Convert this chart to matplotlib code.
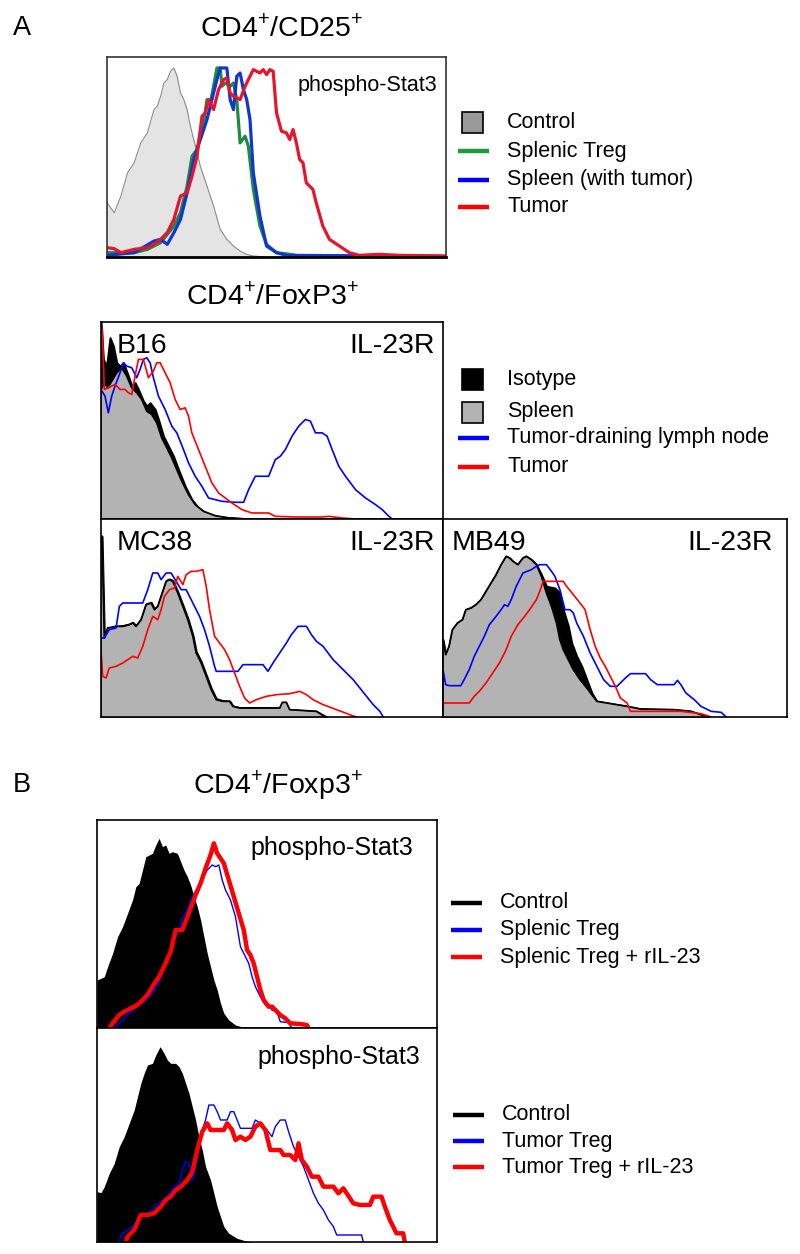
import matplotlib.pyplot as plt
from matplotlib.patches import Rectangle

plt.rcParams['font.family'] = ['Liberation Sans', 'DejaVu Sans']
plt.rcParams['mathtext.fontset'] = 'custom'
plt.rcParams['mathtext.rm'] = 'Liberation Sans'

# ---- Panel A top: CD4+/CD25+ phospho-Stat3 (channel, counts) ----
p1_ctrl_ch = [0, 22, 42, 62, 82, 102, 122, 142, 152, 162, 172, 182, 192, 202, 212, 222, 232, 242,
              252, 262, 282, 302, 322, 342, 362, 382, 402, 422, 442, 482, 1024]
p1_ctrl = [163, 133, 183, 253, 283, 343, 373, 443, 453, 483, 523, 533, 558, 568, 543, 493, 473, 443,
           393, 353, 273, 213, 153, 83, 53, 33, 18, 8, 3, 0, 0]
p1_green_ch = [0, 82, 122, 162, 202, 222, 242, 257, 272, 282, 292, 302, 312, 322, 332, 342, 347, 357,
               372, 382, 392, 402, 417, 427, 442, 462, 482, 512, 552, 582, 1024]
p1_green = [13, 13, 23, 43, 93, 133, 213, 303, 323, 373, 403, 473, 463, 513, 568, 568, 513, 523,
            513, 523, 473, 343, 363, 333, 203, 93, 38, 13, 8, 3, 1]
p1_blue_ch = [0, 82, 142, 162, 182, 202, 222, 242, 262, 282, 302, 322, 332, 342, 362, 372, 382, 392,
              402, 412, 422, 432, 442, 462, 482, 512, 542, 1024]
p1_blue = [5, 13, 48, 53, 38, 73, 113, 193, 293, 353, 413, 493, 533, 568, 568, 473, 443, 543,
           553, 503, 473, 413, 253, 123, 33, 13, 5, 2]
p1_red_ch = [0, 22, 42, 82, 122, 142, 162, 182, 202, 222, 242, 257, 272, 287, 297, 307, 322, 337,
             352, 362, 372, 382, 402, 417, 427, 442, 452, 462, 472, 482, 492, 502, 512, 527, 542, 552,
             562, 572, 582, 592, 602, 612, 622, 632, 652, 672, 702, 732, 762, 822, 882, 1024]
p1_red = [28, 25, 13, 23, 28, 38, 53, 73, 113, 183, 193, 243, 303, 423, 433, 473, 443, 503,
          533, 538, 493, 483, 473, 513, 533, 563, 558, 553, 563, 548, 563, 558, 433, 378, 373, 353,
          383, 343, 293, 283, 223, 213, 203, 163, 93, 53, 33, 13, 5, 8, 5, 3]

# ---- IL-23R, B16 ----
b16_iso_ch = [0, 7, 17, 27, 37, 47, 57, 67, 82, 92, 102, 112, 127, 137, 147, 162, 172, 187, 202, 217,
              232, 252, 272, 292, 322, 362, 412, 462]
b16_iso = [590, 478, 458, 543, 518, 468, 458, 468, 428, 398, 408, 388, 353, 338, 348, 328, 298, 248,
           218, 188, 148, 98, 58, 33, 13, 6, 2, 0]
b16_spl_ch = [0, 10, 20, 32, 47, 62, 77, 92, 107, 122, 137, 152, 167, 182, 197, 212, 227, 242, 262,
              282, 307, 342, 382, 432]
b16_spl = [388, 408, 393, 413, 438, 453, 428, 393, 378, 358, 323, 313, 288, 243, 213, 183, 148, 113,
           73, 43, 23, 10, 3, 0]
b16_blue_ch = [0, 12, 22, 32, 42, 57, 67, 77, 92, 107, 117, 127, 137, 147, 157, 172, 192, 212, 227,
               247, 262, 282, 302, 322, 362, 402, 427, 442, 462, 502, 522, 537, 552, 572, 592, 612,
               627, 642, 662, 677, 692, 712, 732, 762, 792, 822, 842, 862, 872]
b16_blue = [388, 368, 318, 368, 398, 438, 468, 458, 453, 423, 448, 478, 483, 468, 423, 368, 328, 278,
            258, 208, 168, 128, 98, 63, 53, 50, 50, 88, 128, 128, 178, 188, 208, 248, 278, 298,
            293, 258, 258, 248, 208, 158, 128, 88, 63, 43, 28, 8, 0]
b16_red_ch = [0, 4, 10, 22, 42, 57, 72, 82, 92, 102, 112, 127, 142, 157, 167, 177, 192, 207, 222, 237,
              252, 262, 272, 292, 312, 332, 352, 372, 392, 422, 452, 502, 522, 582, 662, 682, 722, 762]
b16_red = [568, 568, 388, 393, 403, 388, 388, 378, 373, 428, 478, 478, 423, 443, 468, 468, 438, 408,
           358, 328, 333, 308, 258, 208, 158, 108, 78, 63, 48, 28, 18, 18, 8, 6, 6, 8, 3, 0]

# ---- IL-23R, MC38 ----
mc38_spl_ch = [0, 3, 10, 20, 45, 65, 85, 95, 105, 120, 135, 150, 160, 170, 180, 195, 205, 215, 230,
               245, 260, 275, 285, 300, 315, 330, 345, 365, 385, 395, 415, 535, 543, 555, 565, 645,
               665, 675]
mc38_spl = [542, 542, 237, 267, 272, 272, 277, 282, 272, 292, 337, 342, 322, 332, 362, 407, 412, 407,
            372, 332, 292, 242, 192, 162, 122, 82, 52, 47, 47, 32, 27, 27, 44, 44, 22, 17, 4, 0]
mc38_iso_ch = [0, 3, 10, 20, 45, 65, 85, 95, 105, 120, 135, 150, 160, 170, 180, 195, 205, 215, 230,
               245, 260, 275, 285, 300, 315, 330, 345, 365, 385, 395, 415, 535, 565, 645, 675]
mc38_iso = [542, 542, 237, 267, 272, 274, 279, 284, 274, 294, 339, 344, 324, 334, 364, 409, 414, 409,
            375, 336, 296, 246, 196, 166, 126, 86, 55, 49, 48, 33, 28, 28, 22, 17, 0]
mc38_blue_ch = [0, 10, 25, 45, 55, 65, 125, 140, 155, 170, 180, 195, 210, 225, 240, 255, 265, 280,
                295, 310, 325, 340, 345, 410, 425, 485, 500, 515, 535, 555, 570, 590, 615, 630, 645,
                665, 680, 695, 715, 735, 755, 775, 795, 815, 835, 845]
mc38_blue = [237, 237, 262, 267, 332, 342, 342, 382, 432, 432, 412, 432, 432, 407, 382, 382, 362, 332,
             302, 262, 212, 152, 137, 137, 157, 157, 137, 162, 192, 222, 247, 272, 272, 247, 227,
             212, 192, 172, 152, 132, 112, 87, 62, 37, 17, 0]
mc38_red_ch = [0, 5, 15, 25, 45, 65, 80, 95, 110, 125, 140, 155, 170, 180, 190, 205, 220, 230, 245,
               255, 270, 285, 305, 315, 325, 340, 355, 370, 385, 400, 415, 430, 445, 465, 495, 525,
               565, 595, 615, 635, 665, 705, 745, 765]
mc38_red = [200, 122, 117, 147, 152, 162, 172, 182, 177, 212, 262, 302, 292, 322, 362, 382, 387, 422,
            397, 427, 437, 437, 442, 392, 322, 242, 222, 202, 172, 132, 92, 57, 42, 52, 62, 67,
            70, 77, 67, 52, 37, 22, 7, 0]

# ---- IL-23R, MB49 ----
mb49_iso_ch = [0, 8, 18, 28, 43, 58, 68, 83, 98, 113, 128, 143, 158, 173, 188, 198, 208, 223, 238, 248,
               263, 278, 293, 308, 333, 348, 358, 373, 383, 398, 413, 428, 443, 458, 488, 518, 548,
               588, 688, 738, 768, 788]
mb49_iso = [232, 187, 212, 262, 282, 292, 322, 327, 337, 352, 377, 402, 427, 457, 482, 477, 467, 457,
            477, 482, 472, 457, 427, 392, 387, 372, 322, 272, 222, 182, 152, 112, 72, 47, 42, 37,
            32, 24, 22, 17, 7, 0]
mb49_spl_ch = [0, 8, 18, 28, 43, 58, 68, 83, 98, 113, 128, 143, 158, 173, 188, 198, 208, 223, 238, 248,
               263, 278, 293, 308, 323, 338, 348, 358, 373, 388, 408, 428, 443, 458, 488, 518, 548,
               588, 688, 738, 768, 788]
mb49_spl = [232, 187, 212, 262, 282, 292, 322, 327, 337, 352, 377, 402, 427, 457, 482, 477, 467, 457,
            477, 482, 472, 457, 422, 372, 332, 282, 232, 202, 172, 142, 112, 87, 67, 47, 42, 37,
            32, 24, 22, 17, 7, 0]
mb49_blue_ch = [0, 8, 18, 53, 63, 78, 93, 108, 123, 138, 158, 173, 183, 193, 203, 218, 238, 263, 278,
                288, 308, 323, 333, 348, 363, 378, 388, 398, 418, 438, 458, 478, 498, 518, 528, 543,
                558, 603, 618, 638, 688, 698, 708, 723, 748, 768, 798, 828, 843]
mb49_blue = [142, 97, 94, 94, 112, 142, 182, 212, 242, 277, 302, 322, 337, 332, 352, 392, 432, 442,
             452, 457, 457, 437, 422, 382, 322, 322, 312, 282, 242, 192, 152, 112, 92, 92, 102, 117,
             130, 130, 112, 97, 97, 110, 97, 72, 52, 32, 17, 14, 0]
mb49_red_ch = [0, 78, 93, 108, 128, 148, 168, 188, 203, 223, 243, 258, 278, 288, 298, 358, 368, 388,
               408, 423, 438, 453, 468, 483, 498, 513, 528, 548, 558, 708, 768, 798]
mb49_red = [42, 42, 62, 77, 102, 132, 162, 202, 242, 277, 302, 322, 352, 377, 407, 407, 392, 367,
            342, 322, 262, 212, 177, 152, 122, 92, 57, 42, 17, 17, 10, 0]

# ---- Panel B: splenic Treg +/- rIL-23 ----
bs_ctrl_ch = [0, 12, 22, 32, 47, 62, 77, 92, 107, 117, 127, 137, 147, 157, 167, 177, 187, 197, 207,
              217, 227, 242, 252, 262, 272, 282, 292, 302, 312, 322, 332, 342, 352, 362, 372, 382,
              397, 417, 442, 462]
bs_ctrl = [144, 149, 154, 184, 224, 274, 304, 344, 384, 424, 434, 474, 514, 519, 524, 549, 569, 544,
           549, 524, 529, 524, 499, 474, 454, 429, 394, 364, 324, 274, 224, 184, 144, 114, 74, 44,
           24, 9, 2, 0]
bs_blue_ch = [52, 62, 82, 102, 122, 142, 162, 182, 202, 217, 232, 247, 257, 272, 287, 302, 317, 332,
              347, 357, 367, 377, 387, 402, 417, 432, 447, 457, 467, 477, 492, 507, 517, 527, 542,
              552, 577, 587]
bs_blue = [0, 9, 29, 49, 64, 79, 99, 129, 174, 209, 264, 294, 329, 354, 394, 419, 444, 474,
           489, 484, 489, 444, 414, 384, 334, 244, 214, 194, 154, 124, 94, 69, 69, 54, 49,
           19, 16, 0]
bs_red_ch = [37, 47, 67, 82, 102, 122, 137, 152, 167, 187, 202, 222, 237, 257, 267, 282, 297, 312, 327,
             342, 352, 362, 372, 382, 397, 412, 427, 442, 452, 462, 472, 482, 492, 502, 517, 527,
             542, 552, 567, 582, 612, 632, 637]
bs_red = [0, 14, 39, 49, 59, 69, 84, 99, 124, 154, 184, 229, 294, 294, 319, 359, 399, 434, 479,
          519, 554, 524, 509, 494, 444, 394, 344, 294, 234, 219, 194, 154, 114, 84, 64, 64,
          49, 39, 29, 14, 12, 9, 0]

# ---- Panel B: tumor Treg +/- rIL-23 ----
bt_ctrl_ch = [0, 12, 22, 37, 52, 67, 82, 97, 112, 122, 132, 142, 152, 167, 177, 190, 202, 212, 222,
              237, 247, 257, 267, 277, 287, 297, 307, 317, 327, 342, 352, 362, 372, 382, 397, 422,
              452, 472]
bt_ctrl = [151, 148, 166, 206, 236, 286, 316, 356, 396, 436, 476, 506, 531, 536, 561, 586, 566, 546,
           536, 536, 526, 506, 476, 446, 406, 366, 316, 276, 226, 186, 146, 106, 76, 46, 26, 11,
           2, 0]
bt_blue_ch = [67, 72, 92, 112, 132, 152, 172, 192, 212, 232, 247, 257, 267, 277, 287, 297, 307, 317,
              327, 337, 352, 362, 372, 392, 402, 412, 422, 432, 452, 467, 477, 492, 512, 527, 537,
              552, 567, 577, 592, 607, 622, 637, 652, 667, 682, 697, 712, 722, 797, 802]
bt_blue = [0, 21, 36, 51, 76, 81, 106, 121, 136, 166, 176, 216, 241, 236, 186, 226, 286, 336,
           366, 411, 411, 391, 366, 366, 391, 391, 366, 341, 341, 341, 366, 356, 336, 316, 346,
           366, 366, 331, 286, 256, 226, 186, 146, 116, 96, 66, 46, 21, 21, 0]
bt_red_ch = [87, 92, 112, 132, 152, 172, 192, 207, 222, 237, 252, 272, 287, 302, 317, 332, 342, 352,
             382, 392, 407, 417, 432, 447, 462, 477, 492, 507, 522, 552, 562, 582, 597, 607, 617,
             632, 647, 667, 682, 712, 727, 742, 752, 772, 792, 822, 832, 857, 867, 882, 902, 922, 927]
bt_red = [0, 16, 36, 81, 81, 86, 106, 126, 136, 156, 166, 186, 211, 276, 331, 356, 336, 336,
          336, 356, 336, 306, 316, 306, 316, 346, 356, 336, 276, 276, 261, 261, 246, 296, 246,
          226, 196, 196, 166, 166, 146, 161, 146, 116, 111, 111, 136, 136, 106, 66, 26, 26, 0]

W, H = 800, 1254
BLUE = '#0000ff'
RED = '#ff0000'
GREY = '#b3b3b3'


def px_axes(fig, x0, y0, x1, y1):
    ax = fig.add_axes([x0 / W, 1 - y1 / H, (x1 - x0) / W, (y1 - y0) / H])
    ax.set_xticks([])
    ax.set_yticks([])
    ax.set_xlim(0, 1024)
    for s in ax.spines.values():
        s.set_linewidth(1.2)
    return ax


def legend_line(ov, x, y, color, label, lw=3.2):
    ov.plot([x, x + 31], [y, y], color=color, lw=lw, solid_capstyle='butt')
    ov.text(x + 49, y, label, fontsize=15.5, va='center', ha='left')


def legend_box(ov, x, y, color, label):
    ov.add_patch(Rectangle((x + 4, y - 10.5), 21, 21, facecolor=color, edgecolor='black', lw=1.2))
    ov.text(x + 49, y, label, fontsize=15.5, va='center', ha='left')


def il23r_panel(ax, iso, spl, blue, red, name, ymax):
    ax.fill_between(iso[0], iso[1], color='black', lw=1.5, edgecolor='black')
    ax.fill_between(spl[0], spl[1], color=GREY, lw=0)
    ax.plot(spl[0], spl[1], color='black', lw=1.3)
    ax.plot(blue[0], blue[1], color=BLUE, lw=1.2)
    ax.plot(red[0], red[1], color=RED, lw=1.2)
    ax.set_ylim(0, ymax)
    ax.text(0.045, 0.88, name, transform=ax.transAxes, fontsize=20.5, va='center', ha='left')
    ax.text(0.975, 0.88, 'IL-23R', transform=ax.transAxes, fontsize=20.5, va='center', ha='right')


def main():
    fig = plt.figure(figsize=(W / 100, H / 100), dpi=100)
    ov = fig.add_axes([0, 0, 1, 1])
    ov.set_xlim(0, W)
    ov.set_ylim(H, 0)
    ov.axis('off')

    # --- A: CD4+/CD25+ ---
    ov.text(13, 28, 'A', fontsize=19.5, va='center', ha='left')
    ov.text(282, 28, r'CD4$^{\mathregular{+}}$/CD25$^{\mathregular{+}}$', fontsize=20.5, va='center', ha='center')
    ax = px_axes(fig, 107, 57, 446, 257)
    for s in ax.spines.values():
        s.set_color('#333333')
    ax.spines['bottom'].set_color('black')
    ax.spines['bottom'].set_linewidth(2)
    ax.fill_between(p1_ctrl_ch, p1_ctrl, color='#e4e4e4', lw=0)
    ax.plot(p1_ctrl_ch, p1_ctrl, color='#8c8c8c', lw=0.8)
    ax.plot(p1_green_ch, p1_green, color='#1e8c3c', lw=2.3)
    ax.plot(p1_blue_ch, p1_blue, color='#1035d0', lw=2.3)
    ax.plot(p1_red_ch, p1_red, color='#e8142d', lw=2.3)
    ax.set_ylim(0, 601)
    ax.text(0.973, 0.86, 'phospho-Stat3', transform=ax.transAxes, fontsize=15.5, va='center', ha='right')

    legend_box(ov, 458, 122, '#999999', 'Control')
    legend_line(ov, 458, 151, '#1e9c3c', 'Splenic Treg')
    legend_line(ov, 458, 180, BLUE, 'Spleen (with tumor)')
    legend_line(ov, 458, 207, RED, 'Tumor')

    # --- A: CD4+/FoxP3+ IL-23R ---
    ov.text(272, 296, r'CD4$^{\mathregular{+}}$/FoxP3$^{\mathregular{+}}$', fontsize=20.5, va='center', ha='center')
    ax = px_axes(fig, 101, 322, 443, 519)
    il23r_panel(ax, (b16_iso_ch, b16_iso), (b16_spl_ch, b16_spl), (b16_blue_ch, b16_blue),
                (b16_red_ch, b16_red), 'B16', 590)
    ax = px_axes(fig, 101, 519, 443, 717)
    il23r_panel(ax, (mc38_iso_ch, mc38_iso), (mc38_spl_ch, mc38_spl), (mc38_blue_ch, mc38_blue),
                (mc38_red_ch, mc38_red), 'MC38', 594)
    ax = px_axes(fig, 443, 519, 787, 717)
    il23r_panel(ax, (mb49_iso_ch, mb49_iso), (mb49_spl_ch, mb49_spl), (mb49_blue_ch, mb49_blue),
                (mb49_red_ch, mb49_red), 'MB49', 594)
    ax.texts[0].set_x(0.026)
    ax.texts[1].set_x(0.96)

    legend_box(ov, 458, 379, 'black', 'Isotype')
    legend_box(ov, 458, 412, GREY, 'Spleen')
    legend_line(ov, 458, 438, BLUE, 'Tumor-draining lymph node')
    legend_line(ov, 458, 467, RED, 'Tumor')

    # --- B: CD4+/Foxp3+ ---
    ov.text(13, 785, 'B', fontsize=19.5, va='center', ha='left')
    ov.text(278, 785, r'CD4$^{\mathregular{+}}$/Foxp3$^{\mathregular{+}}$', fontsize=20.5, va='center', ha='center')
    panels = [((97, 820, 437, 1028), bs_ctrl_ch, bs_ctrl, bs_blue_ch, bs_blue, bs_red_ch, bs_red, 624, 0.93),
              ((97, 1028, 437, 1242), bt_ctrl_ch, bt_ctrl, bt_blue_ch, bt_blue, bt_red_ch, bt_red, 642, 0.95)]
    for box, cch, cc, bch, bc, rch, rc, ymax, tx in panels:
        ax = px_axes(fig, *box)
        ax.fill_between(cch, cc, color='black', lw=0)
        ax.plot(bch, bc, color=BLUE, lw=1.0)
        ax.plot(rch, rc, color=RED, lw=3.2)
        ax.set_ylim(0, ymax)
        ax.text(tx, 0.865, 'phospho-Stat3', transform=ax.transAxes, fontsize=18, va='center', ha='right')

    legend_line(ov, 451, 903, 'black', 'Control')
    legend_line(ov, 451, 930, BLUE, 'Splenic Treg')
    legend_line(ov, 451, 957, RED, 'Splenic Treg + rIL-23')
    legend_line(ov, 453, 1115, 'black', 'Control')
    legend_line(ov, 453, 1141, BLUE, 'Tumor Treg')
    legend_line(ov, 453, 1167, RED, 'Tumor Treg + rIL-23')

    fig.savefig('out.png', dpi=100)
    return


if __name__ == "__main__":
    main()
